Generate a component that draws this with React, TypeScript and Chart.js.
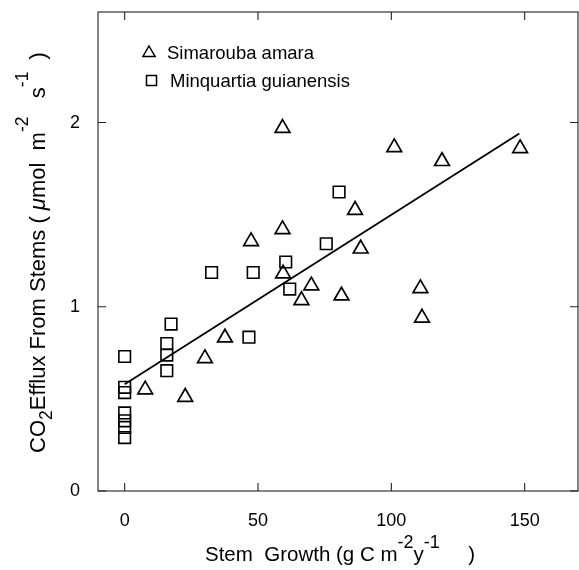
import React, { useEffect, useRef } from "react";
import { Chart, registerables } from "chart.js";

Chart.register(...registerables);

// ---- data ----
const simaroubaX = [59.2, 101.1, 119.0, 148.3, 86.4, 59.2, 47.4, 59.4, 88.5, 70.0, 66.3, 81.3, 110.9, 111.5, 37.6, 30.1, 7.7, 22.7];
const simaroubaY = [1.97, 1.865, 1.79, 1.86, 1.525, 1.42, 1.355, 1.18, 1.315, 1.115, 1.035, 1.06, 1.10, 0.94, 0.832, 0.72, 0.55, 0.51];

const minquartiaX = [80.4, 75.6, 60.4, 32.6, 48.2, 61.9, 17.4, 46.6, 15.8, 15.8, 15.8, 0, 0, 0, 0, 0, 0, 0];
const minquartiaY = [1.623, 1.342, 1.243, 1.186, 1.186, 1.096, 0.906, 0.835, 0.80, 0.738, 0.653, 0.73, 0.563, 0.534, 0.424, 0.381, 0.345, 0.29];

const fitX = [0, 148];
const fitY = [0.58, 1.94];

const xTicks = [0, 50, 100, 150];
const yTicks = [0, 1, 2];
const xRange = [-10, 170];
const yRange = [0, 2.6];

const seriesNames = ["Simarouba amara", "Minquartia guianensis"];

type Part = { t: string; k: "n" | "sup" | "sub"; it?: boolean };
const xTitleParts: Part[] = [
  { t: "Stem  Growth (g C m", k: "n" },
  { t: "-2", k: "sup" },
  { t: "y", k: "n" },
  { t: "-1", k: "sup" },
  { t: "     )", k: "n" },
];
const yTitleParts: Part[] = [
  { t: "CO", k: "n" },
  { t: "2", k: "sub" },
  { t: "Efflux From Stems ( ", k: "n" },
  { t: "\u03bc", k: "n", it: true },
  { t: "mol  m", k: "n" },
  { t: "-2", k: "sup" },
  { t: "   s", k: "n" },
  { t: "-1", k: "sup" },
  { t: "  )", k: "n" },
];

const FAMILY = "'Liberation Sans', Arial, Helvetica, sans-serif";

function drawRich(
  ctx: CanvasRenderingContext2D,
  parts: Part[],
  base: number,
  small: number,
  raise: number,
  drop: number,
  cx: number,
  cy: number,
  rotate: boolean
) {
  ctx.save();
  ctx.translate(cx, cy);
  if (rotate) ctx.rotate(-Math.PI / 2);
  const fontFor = (p: Part) => `${p.it ? "italic " : ""}${p.k === "n" ? base : small}px ${FAMILY}`;
  const widths = parts.map((p) => {
    ctx.font = fontFor(p);
    return ctx.measureText(p.t).width;
  });
  const total = widths.reduce((a, b) => a + b, 0);
  let x = -total / 2;
  ctx.fillStyle = "#000";
  ctx.textAlign = "left";
  ctx.textBaseline = "alphabetic";
  parts.forEach((p, i) => {
    ctx.font = fontFor(p);
    const dy = p.k === "sup" ? -raise : p.k === "sub" ? drop : 0;
    ctx.fillText(p.t, x, dy);
    x += widths[i];
  });
  ctx.restore();
}

const framePlugin = {
  id: "frame",
  afterDraw(chart: any) {
    const ctx: CanvasRenderingContext2D = chart.ctx;
    const { left, right, top, bottom } = chart.chartArea;
    const xs = chart.scales.x;
    const ys = chart.scales.y;
    ctx.save();
    ctx.strokeStyle = "#222";
    ctx.lineWidth = 1.1;
    ctx.strokeRect(left, top, right - left, bottom - top);
    const tl = 8;
    ctx.beginPath();
    xTicks.forEach((v) => {
      const px = xs.getPixelForValue(v);
      ctx.moveTo(px, bottom);
      ctx.lineTo(px, bottom - tl);
      ctx.moveTo(px, top);
      ctx.lineTo(px, top + tl);
    });
    yTicks.forEach((v) => {
      const py = ys.getPixelForValue(v);
      ctx.moveTo(left, py);
      ctx.lineTo(left + tl, py);
      ctx.moveTo(right, py);
      ctx.lineTo(right - tl, py);
    });
    ctx.stroke();

    // legend
    ctx.lineWidth = 1.5;
    ctx.strokeStyle = "#000";
    const tx = 149, ty = 53, r = 7;
    ctx.beginPath();
    ctx.moveTo(tx, ty - r);
    ctx.lineTo(tx + r * 0.866, ty + r / 2);
    ctx.lineTo(tx - r * 0.866, ty + r / 2);
    ctx.closePath();
    ctx.stroke();
    ctx.strokeRect(146.5, 75.5, 10, 10);
    ctx.fillStyle = "#000";
    ctx.font = `18.5px ${FAMILY}`;
    ctx.textAlign = "left";
    ctx.textBaseline = "alphabetic";
    ctx.fillText(seriesNames[0], 167, 59);
    ctx.fillText(seriesNames[1], 170, 87);
    ctx.restore();

    // axis titles
    drawRich(ctx, xTitleParts, 20.5, 18, 13, 6, 340, 561, false);
    drawRich(ctx, yTitleParts, 22, 17.5, 17, 7, 45, 252.5, true);
  },
};

export default function App() {
  const canvasRef = useRef<HTMLCanvasElement | null>(null);

  useEffect(() => {
    document.body.style.margin = "0";
    const canvas = canvasRef.current;
    if (!canvas) return;
    Chart.defaults.font.family = FAMILY;
    Chart.defaults.color = "#000";
    const chart = new Chart(canvas, {
      type: "scatter",
      data: {
        datasets: [
          {
            label: seriesNames[0],
            data: simaroubaX.map((x, i) => ({ x, y: simaroubaY[i] })),
            pointStyle: "triangle",
            pointRadius: 8.5,
            pointBorderWidth: 1.7,
            borderColor: "#000",
            backgroundColor: "rgba(0,0,0,0)",
          },
          {
            label: seriesNames[1],
            data: minquartiaX.map((x, i) => ({ x, y: minquartiaY[i] })),
            pointStyle: "rect",
            pointRadius: 8.2,
            pointBorderWidth: 1.6,
            borderColor: "#000",
            backgroundColor: "rgba(0,0,0,0)",
          },
          {
            label: "fit",
            data: fitX.map((x, i) => ({ x, y: fitY[i] })),
            showLine: true,
            pointRadius: 0,
            borderColor: "#000",
            borderWidth: 1.8,
          },
        ],
      },
      options: {
        animation: false,
        responsive: false,
        devicePixelRatio: 1,
        layout: { autoPadding: false, padding: { left: 0, top: 12, right: 1, bottom: 0 } },
        plugins: {
          legend: { display: false },
          tooltip: { enabled: false },
        },
        scales: {
          x: {
            type: "linear",
            min: xRange[0],
            max: xRange[1],
            grid: { display: false },
            border: { display: false },
            ticks: { font: { size: 18 }, color: "#000", padding: 11, maxRotation: 0 },
            afterBuildTicks: (s: any) => {
              s.ticks = xTicks.map((v) => ({ value: v }));
            },
            afterFit: (s: any) => {
              s.height = 79;
              s.paddingLeft = 0;
              s.paddingRight = 0;
            },
          },
          y: {
            type: "linear",
            min: yRange[0],
            max: yRange[1],
            grid: { display: false },
            border: { display: false },
            ticks: { font: { size: 18 }, color: "#000", padding: 10 },
            afterBuildTicks: (s: any) => {
              s.ticks = yTicks.map((v) => ({ value: v }));
            },
            afterFit: (s: any) => {
              s.width = 98;
              s.paddingTop = 0;
              s.paddingBottom = 0;
            },
          },
        },
      },
      plugins: [framePlugin],
    });
    return () => chart.destroy();
  }, []);

  return (
    <div style={{ width: 579, height: 570 }}>
      <canvas ref={canvasRef} width={579} height={570} style={{ display: "block", width: 579, height: 570 }} />
    </div>
  );
}
